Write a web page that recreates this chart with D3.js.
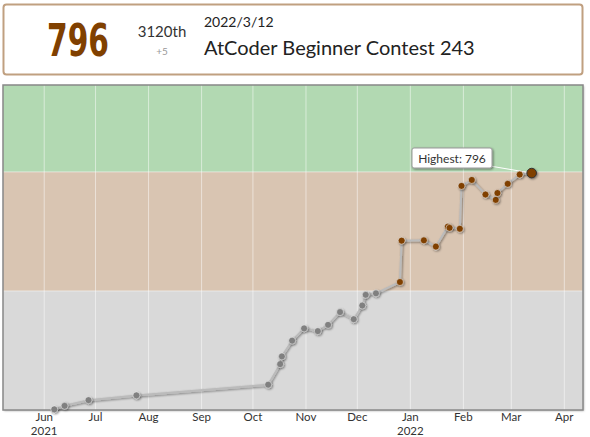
<!DOCTYPE html>
<html><head><meta charset="utf-8">
<script src="https://cdn.jsdelivr.net/npm/d3@7"></script>
<style>
html,body{margin:0;padding:0;background:#fff;}
svg{display:block;font-family:Lato, "Noto Sans", sans-serif;}
</style></head>
<body>
<svg id="chart" width="590" height="437"></svg>
<script>
// ---- data ----
const contestDates = ["2021-06-06","2021-06-12","2021-06-26","2021-07-24","2021-10-09","2021-10-16","2021-10-17","2021-10-23","2021-10-30","2021-11-07","2021-11-13","2021-11-20","2021-11-28","2021-12-03","2021-12-05","2021-12-11","2021-12-25","2021-12-26","2022-01-08","2022-01-15","2022-01-22","2022-01-23","2022-01-29","2022-01-30","2022-02-05","2022-02-13","2022-02-19","2022-02-20","2022-02-26","2022-03-05","2022-03-12"];
const ratings = [2,14,33,49,85,154,180,233,274,265,286,329,305,351,387,392,430,569,570,549,616,612,609,753,773,724,706,729,760,791,796];
const bandLimits = [0,400,800,1200];
const bandColors = ["#808080","#804000","#008000"];
const yMax = 1092;
const yearLabels = {"2021-06":"2021","2022-01":"2022"};
const header = {rating:"796", place:"3120th", diff:"+5", date:"2022/3/12", contest:"AtCoder Beginner Contest 243"};
const highestLabel = "Highest: 796";

// ---- setup ----
const svg = d3.select("#chart");
const parse = d3.timeParse("%Y-%m-%d");
const data = contestDates.map((d,i)=>({date:d3.timeHour.offset(parse(d),22), rating:ratings[i]}));
const panel = {x0:3, x1:583, y0:85, y1:410};

const x = d3.scaleTime()
  .domain([d3.timeDay.offset(data[0].date,-30), d3.timeDay.offset(data[data.length-1].date,30)])
  .range([panel.x0, panel.x1]);
const y = d3.scaleLinear().domain([0,yMax]).range([panel.y1, panel.y0]);
const colorOf = r => bandColors[Math.min(bandColors.length-1, Math.floor(r/400))];

const defs = svg.append("defs");
const sh = defs.append("filter").attr("id","shadow").attr("x","-50%").attr("y","-50%").attr("width","200%").attr("height","200%");
sh.append("feDropShadow").attr("dx",1).attr("dy",1).attr("stdDeviation",1).attr("flood-color","#000").attr("flood-opacity",0.45);
const sh2 = defs.append("filter").attr("id","pshadow").attr("x","-5%").attr("y","-5%").attr("width","110%").attr("height","110%");
sh2.append("feDropShadow").attr("dx",1).attr("dy",1).attr("stdDeviation",1).attr("flood-color","#000").attr("flood-opacity",0.3);
defs.append("clipPath").attr("id","clip").append("rect")
  .attr("x",panel.x0).attr("y",panel.y0).attr("width",panel.x1-panel.x0).attr("height",panel.y1-panel.y0);

// ---- header box ----
svg.append("rect").attr("x",3.5).attr("y",4.5).attr("width",579).attr("height",70).attr("rx",3)
  .attr("fill","#fff").attr("stroke","#c0a080").attr("stroke-width",2);
svg.append("text").attr("x",47).attr("y",55.5).attr("textLength",62).attr("lengthAdjust","spacingAndGlyphs")
  .attr("font-family","'DejaVu Sans Condensed','DejaVu Sans',sans-serif").attr("font-weight","bold")
  .attr("font-size",44).attr("fill","#804000").text(header.rating);
svg.append("text").attr("x",162).attr("y",37).attr("text-anchor","middle").attr("font-size",15).attr("fill","#333").text(header.place);
svg.append("text").attr("x",162).attr("y",55).attr("text-anchor","middle").attr("font-size",10).attr("fill","#999").text(header.diff);
svg.append("text").attr("x",204).attr("y",27).attr("font-size",14).attr("fill","#222").text(header.date);
svg.append("text").attr("x",204).attr("y",55).attr("font-size",20).attr("fill","#222").text(header.contest);

// ---- panel ----
svg.append("rect").attr("x",panel.x0).attr("y",panel.y0).attr("width",panel.x1-panel.x0).attr("height",panel.y1-panel.y0)
  .attr("fill","#fff").attr("filter","url(#pshadow)");
const g = svg.append("g").attr("clip-path","url(#clip)");
g.selectAll("rect.band").data(bandColors).join("rect").attr("class","band")
  .attr("x",panel.x0).attr("width",panel.x1-panel.x0)
  .attr("y",(c,i)=>y(bandLimits[i+1])).attr("height",(c,i)=>y(bandLimits[i])-y(bandLimits[i+1]))
  .attr("fill",c=>c).attr("fill-opacity",0.3);

const ticks = x.ticks(d3.timeMonth.every(1));
g.selectAll("line.vgrid").data(ticks).join("line").attr("class","vgrid")
  .attr("x1",d=>x(d)).attr("x2",d=>x(d)).attr("y1",panel.y0).attr("y2",panel.y1)
  .attr("stroke","#fff").attr("stroke-opacity",0.5).attr("stroke-width",1);
g.selectAll("line.hgrid").data(bandLimits.slice(1,-1)).join("line").attr("class","hgrid")
  .attr("x1",panel.x0).attr("x2",panel.x1).attr("y1",d=>y(d)).attr("y2",d=>y(d))
  .attr("stroke","#fff").attr("stroke-opacity",0.5).attr("stroke-width",1);

svg.append("rect").attr("x",panel.x0).attr("y",panel.y0).attr("width",panel.x1-panel.x0).attr("height",panel.y1-panel.y0)
  .attr("fill","none").attr("stroke","#888").attr("stroke-width",1.5);

// axis labels
const fmt = d3.timeFormat("%b"), key = d3.timeFormat("%Y-%m");
const lab = svg.append("g").attr("font-size",11.5).attr("fill","#333").attr("text-anchor","middle");
lab.selectAll("text.m").data(ticks).join("text").attr("class","m")
  .attr("x",d=>x(d)).attr("y",421).text(d=>fmt(d));
lab.selectAll("text.yr").data(ticks.filter(d=>yearLabels[key(d)])).join("text").attr("class","yr")
  .attr("x",d=>x(d)).attr("y",434.5).text(d=>yearLabels[key(d)]);

// ---- line & points ----
const line = d3.line().x(d=>x(d.date)).y(d=>y(d.rating));
svg.append("path").datum(data).attr("d",line).attr("fill","none")
  .attr("stroke","#bbb").attr("stroke-width",2).attr("filter","url(#shadow)");

const last = data[data.length-1];
// highest label
const hx = 452, hy = 158;
svg.append("line").attr("x1",hx+38).attr("y1",hy+8).attr("x2",x(last.date)).attr("y2",y(last.rating))
  .attr("stroke","#fff").attr("stroke-width",1);

svg.selectAll("circle.pt").data(data.slice(0,-1)).join("circle").attr("class","pt")
  .attr("cx",d=>x(d.date)).attr("cy",d=>y(d.rating)).attr("r",3.5)
  .attr("fill",d=>colorOf(d.rating)).attr("stroke","#eee").attr("stroke-opacity",0.7).attr("stroke-width",0.8)
  .attr("filter","url(#shadow)");
svg.append("circle").attr("cx",x(last.date)).attr("cy",y(last.rating)).attr("r",4.8)
  .attr("fill",colorOf(last.rating)).attr("stroke","#333").attr("stroke-width",1).attr("filter","url(#shadow)");

svg.append("rect").attr("x",hx-40).attr("y",hy-10).attr("width",80).attr("height",20).attr("rx",2)
  .attr("fill","#fff").attr("stroke","#999").attr("stroke-width",1).attr("filter","url(#shadow)");
svg.append("text").attr("x",hx).attr("y",hy+4.5).attr("text-anchor","middle").attr("font-size",12).attr("fill","#333").text(highestLabel);
</script>
</body></html>
